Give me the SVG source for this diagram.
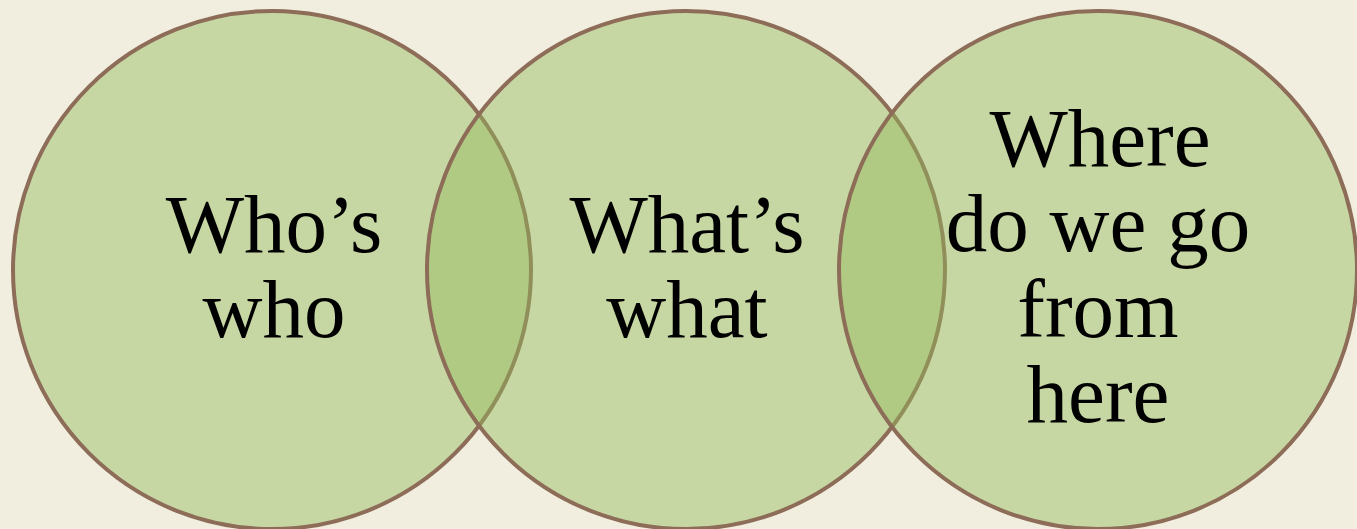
<svg xmlns="http://www.w3.org/2000/svg" width="1357" height="529" viewBox="0 0 1357 529">
<style>
.c{fill:rgb(148,187,93);fill-opacity:0.45;stroke:#8d6c58;stroke-width:4}
.t{font-family:"Liberation Serif","Times New Roman",serif;font-size:83px;fill:#000;text-anchor:middle}
</style>
<rect width="1357" height="529" fill="#f1eedf"/>
<g id="who">
<circle class="c" cx="272" cy="270" r="259"/>
<text class="t" x="274" y="252">Who’s</text>
<text class="t" x="274" y="337">who</text>
</g>
<g id="what">
<circle class="c" cx="686" cy="270" r="259"/>
<text class="t" x="687" y="252">What’s</text>
<text class="t" x="687" y="337">what</text>
</g>
<g id="where">
<circle class="c" cx="1098" cy="270" r="259"/>
<text class="t" x="1100" y="166">Where</text>
<text class="t" x="1098" y="251">do we go</text>
<text class="t" x="1098" y="337">from</text>
<text class="t" x="1098" y="422">here</text>
</g>
<g id="connectors"/>
</svg>
